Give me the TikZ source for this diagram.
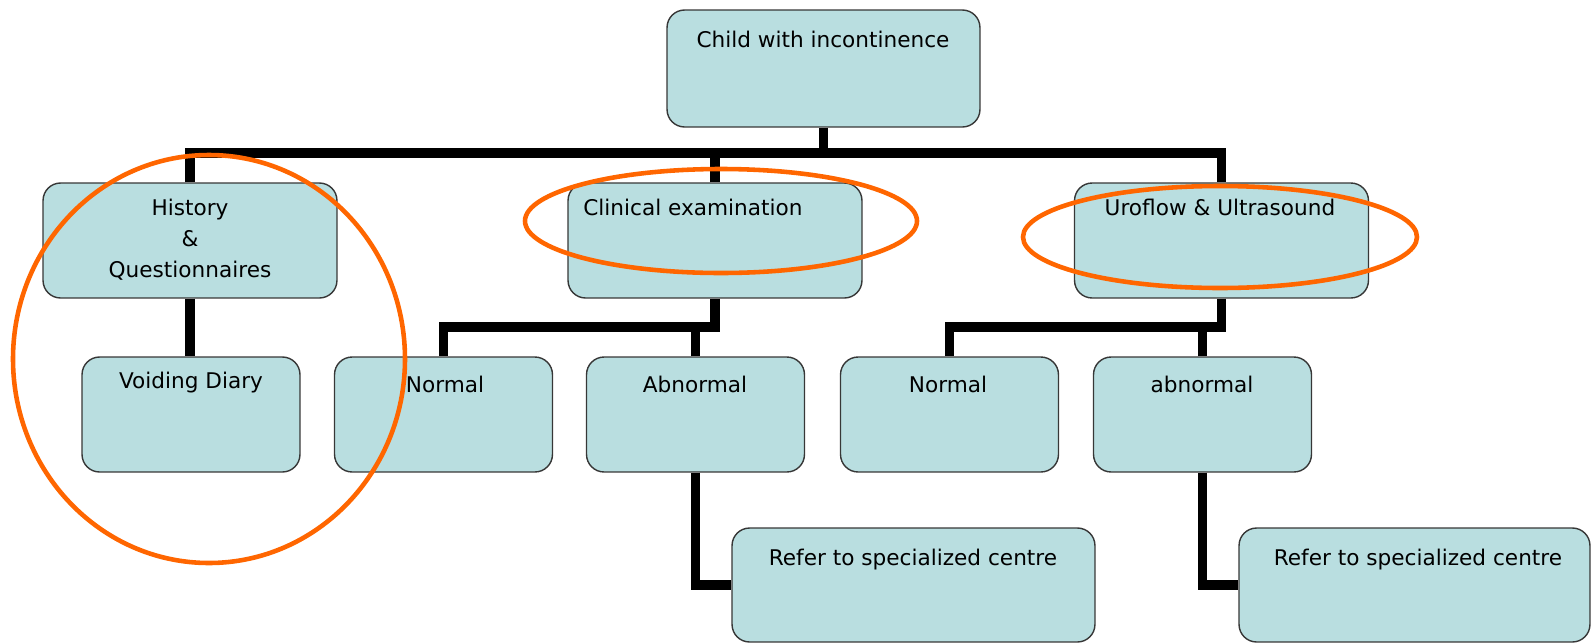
\documentclass[tikz,border=0pt]{standalone}
\usepackage{fontspec}
\setmainfont{DejaVu Sans}
\usetikzlibrary{calc}
\definecolor{boxfill}{RGB}{185,222,224}
\definecolor{boxline}{RGB}{55,55,55}
\definecolor{ringorange}{RGB}{255,102,0}

\begin{document}
\begin{tikzpicture}[x=0.02cm,y=-0.02cm,
		box/.style={draw=boxline,line width=0.8pt,fill=boxfill,rounded corners=10pt,inner sep=0pt,minimum height=2.3cm},
		bigbox/.style={box,minimum width=5.88cm},
		smallbox/.style={box,minimum width=4.36cm},
		conn/.style={line width=5.5pt},
		ring/.style={draw=ringorange,line width=2.6pt},
		txt/.style={font=\fontsize{12.3}{17.6}\selectfont,inner sep=0pt,anchor=base}]
	\useasboundingbox (0,0) rectangle (1593,643);
	
		% boxes
		\node[box,minimum width=6.26cm,minimum height=2.34cm] (child) at (823.5,68.5) {};
		\node[bigbox] (hist) at (190,240.5) {};
		\node[bigbox] (clin) at (715,240.5) {};
		\node[bigbox] (uro) at (1221.5,240.5) {};
		\node[smallbox] (diary) at (191,414.5) {};
		\node[smallbox] (norm1) at (443.5,414.5) {};
		\node[smallbox] (abn1) at (695.5,414.5) {};
		\node[smallbox] (norm2) at (949.5,414.5) {};
		\node[smallbox] (abn2) at (1202.5,414.5) {};
		\node[box,minimum width=7.26cm,minimum height=2.28cm] (ref1) at (913.5,585) {};
		\node[box,minimum width=7.02cm,minimum height=2.28cm] (ref2) at (1414.5,585) {};
	
		% connectors
		\coordinate (topbus) at (0,153);
		\coordinate (lbus) at (0,327);
		\draw[conn] (child.south) -- (child.south |- topbus);
		\draw[conn] (hist.north) |- (uro.north |- topbus) -- (uro.north);
		\draw[conn] (clin.north) -- (clin.north |- topbus);
		\draw[conn] (hist.south) -- (hist.south |- diary.north);
		\draw[conn] (clin.south) |- (norm1.north |- lbus) -- (norm1.north);
		\draw[conn] (abn1.north) -- (abn1.north |- lbus);
		\draw[conn] (uro.south) |- (norm2.north |- lbus) -- (norm2.north);
		\draw[conn] (abn2.north) -- (abn2.north |- lbus);
		\draw[conn] (abn1.south) |- (ref1.west);
		\draw[conn] (abn2.south) |- (ref2.west);
	
		% texts
		\node[txt] (childtxt) at (823,47) {Child with incontinence};
		\node[txt,anchor=center,align=center] (histtxt) at (190,240) {History\\\&\\Questionnaires};
		\node[txt] (diarytxt) at (191,388) {Voiding Diary};
		\node[txt] (norm1txt) at (445,392) {Normal};
		\node[txt] (abn1txt) at (695,392) {Abnormal};
		\node[txt] (norm2txt) at (948,392) {Normal};
		\node[txt] (abn2txt) at (1202,392) {abnormal};
		\node[txt,anchor=base west] (clintxt) at (583,215) {Clinical examination};
		\node[txt] (urotxt) at (1220,215) {Uroflow \& Ultrasound};
		\node[txt] (ref1txt) at (913,565) {Refer to specialized centre};
		\node[txt] (ref2txt) at (1418,565) {Refer to specialized centre};
	
		% orange marks
		\draw[ring] (209,359) ellipse [x radius=196, y radius=204];
		\draw[ring] (721,221) ellipse [x radius=196, y radius=52];
		\draw[ring] (1220,237) ellipse [x radius=197, y radius=51];
\end{tikzpicture}
\end{document}
